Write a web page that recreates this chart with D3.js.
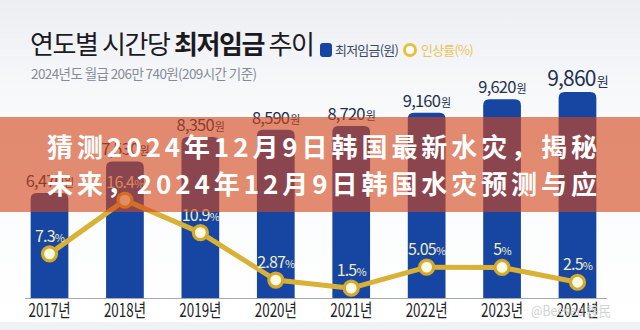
<!DOCTYPE html>
<html>
<head>
<meta charset="utf-8">
<script src="https://cdn.jsdelivr.net/npm/d3@7"></script>
<style>
  html, body { margin: 0; padding: 0; background: #ffffff; }
  svg { display: block; }
</style>
</head>
<body>
<svg id="chart" width="640" height="330"></svg>
<script>
// ---- data ----
const years = ["2017", "2018", "2019", "2020", "2021", "2022", "2023", "2024"];
const wages = [6470, 7530, 8350, 8590, 8720, 9160, 9620, 9860];
const wageLabels = ["6,470", "7,530", "8,350", "8,590", "8,720", "9,160", "9,620", "9,860"];
const rates = [7.3, 16.4, 10.9, 2.87, 1.5, 5.05, 5, 2.5];
const rateLabels = ["7.3", "16.4", "10.9", "2.87", "1.5", "5.05", "5", "2.5"];
const yearSuffix = "년";
const wonUnit = "원";
const pctUnit = "%";
const titleParts = ["연도별 시간당 ", "최저임금", " 추이"];
const subtitle = "2024년도 월급 206만 740원(209시간 기준)";
const legendLabels = ["최저임금(원)", "인상률(%)"];
const overlayLines = ["猜测2024年12月9日韩国最新水灾，揭秘", "未来，2024年12月9日韩国水灾预测与应"];
const watermark = "@Beeseo 移民";

// ---- layout ----
const W = 640, H = 330;
const baseY = 298;
const svg = d3.select("#chart");
const KR = "'Noto Sans CJK KR', 'Noto Sans', sans-serif";

const defs = svg.append("defs");
const bg = defs.append("linearGradient").attr("id", "bgGrad").attr("x1", 0).attr("y1", 0).attr("x2", 0).attr("y2", 1);
bg.append("stop").attr("offset", "0%").attr("stop-color", "#eceef2");
bg.append("stop").attr("offset", "30%").attr("stop-color", "#f8f9fb");
bg.append("stop").attr("offset", "100%").attr("stop-color", "#ffffff");
svg.append("rect").attr("width", W).attr("height", H).attr("fill", "url(#bgGrad)");
svg.append("rect").attr("x", 0).attr("y", 322).attr("width", W).attr("height", 8).attr("fill", "#f0f1f3");

// scales
const x = d3.scaleBand().domain(years).range([11.8, 615.2]).paddingInner(0.5).paddingOuter(0.25);
const yW = d3.scaleLinear().domain([2945, 9860]).range([baseY, 92]);
const yP = d3.scaleLinear().domain([0, 20]).range([297, 297 - 20 * 5.906]);
const cx = d => x(d) + x.bandwidth() / 2;

// title
const title = svg.append("text").attr("x", 30).attr("y", 54)
  .attr("font-family", KR).attr("font-size", 26).attr("fill", "#1b1b1f")
  .attr("letter-spacing", -1.4);
title.selectAll("tspan").data(titleParts).join("tspan")
  .attr("font-weight", (d, i) => i === 1 ? 700 : 400)
  .text(d => d);

svg.append("text").attr("x", 31).attr("y", 79)
  .attr("font-family", KR).attr("font-size", 13.5).attr("fill", "#858c98")
  .attr("letter-spacing", -0.6)
  .text(subtitle);

// legend
svg.append("rect").attr("x", 320).attr("y", 43).attr("width", 12).attr("height", 14).attr("rx", 3).attr("fill", "#1746a2");
svg.append("text").attr("x", 335).attr("y", 55).attr("font-family", KR).attr("font-size", 13)
  .attr("fill", "#3b4866").attr("letter-spacing", -0.8).text(legendLabels[0]);
svg.append("circle").attr("cx", 410).attr("cy", 50).attr("r", 5.5).attr("fill", "#ffffff")
  .attr("stroke", "#e8bf3c").attr("stroke-width", 3);
svg.append("text").attr("x", 421).attr("y", 55).attr("font-family", KR).attr("font-size", 13)
  .attr("fill", "#ebc458").attr("letter-spacing", -0.8).text(legendLabels[1]);

// axis baseline
svg.append("line").attr("x1", 25).attr("x2", 607).attr("y1", baseY + 0.5).attr("y2", baseY + 0.5)
  .attr("stroke", "#a4a9b1").attr("stroke-width", 1);

// bars with rounded top
const r = 6;
svg.append("g").selectAll("path").data(years).join("path")
  .attr("fill", "#1746a2")
  .attr("d", (d, i) => {
    const x0 = x(d), w = x.bandwidth(), t = yW(wages[i]);
    return `M${x0},${baseY}V${t + r}Q${x0},${t} ${x0 + r},${t}H${x0 + w - r}Q${x0 + w},${t} ${x0 + w},${t + r}V${baseY}Z`;
  });

// wage labels
const wl = svg.append("g").selectAll("text").data(years).join("text")
  .attr("x", d => cx(d)).attr("y", (d, i) => yW(wages[i]) - 6)
  .attr("text-anchor", "middle").attr("font-family", KR).attr("fill", "#243050")
  .attr("letter-spacing", -0.8);
wl.append("tspan").attr("font-size", (d, i) => i === years.length - 1 ? 21 : 16.5)
  .text((d, i) => wageLabels[i]);
wl.append("tspan").attr("font-size", (d, i) => i === years.length - 1 ? 13 : 11)
  .attr("dx", 1).text(wonUnit);

// year labels
svg.append("g").selectAll("text").data(years).join("text")
  .attr("x", d => cx(d)).attr("y", 317).attr("text-anchor", "middle")
  .attr("font-family", KR).attr("font-size", 18).attr("fill", "#202226")
  .attr("textLength", 42).attr("lengthAdjust", "spacingAndGlyphs")
  .text(d => d + yearSuffix);

// rate line
const line = d3.line().x((d, i) => cx(years[i])).y(d => yP(d));
svg.append("path").datum(rates).attr("d", line).attr("fill", "none")
  .attr("stroke", "#d9b136").attr("stroke-width", 5).attr("stroke-linejoin", "round");
svg.append("g").selectAll("circle").data(rates).join("circle")
  .attr("cx", (d, i) => cx(years[i])).attr("cy", d => yP(d)).attr("r", 7)
  .attr("fill", "#fffbe2").attr("stroke", "#d4a92c").attr("stroke-width", 3.2);

// rate labels
const rl = svg.append("g").selectAll("text").data(rates).join("text")
  .attr("x", (d, i) => cx(years[i])).attr("y", d => yP(d) - 12)
  .attr("text-anchor", "middle").attr("font-family", KR).attr("fill", "#f2ecc0")
  .attr("letter-spacing", -0.8);
rl.append("tspan").attr("font-size", 16).text((d, i) => rateLabels[i]);
rl.append("tspan").attr("font-size", 11).text(pctUnit);

// watermark
svg.append("text").attr("x", 531).attr("y", 316).attr("font-family", "'Noto Sans CJK SC', sans-serif")
  .attr("font-size", 14).attr("fill", "#c9c9c9").attr("opacity", 0.8)
  .attr("textLength", 80).attr("lengthAdjust", "spacingAndGlyphs").text(watermark);

// overlay band
svg.append("rect").attr("x", 0).attr("y", 117).attr("width", W).attr("height", 95)
  .attr("fill", "rgb(210,69,26)").attr("opacity", 0.62);

const ov = svg.append("g").selectAll("text").data(overlayLines).join("text")
  .attr("x", 47).attr("y", (d, i) => 157 + i * 37)
  .attr("font-family", "'Noto Sans CJK SC', sans-serif").attr("font-weight", 700)
  .attr("font-size", 26).attr("fill", "#ffffff")
  .text(d => d);
// spread each line to span the same width as in the source
ov.each(function (d) {
  const el = this;
  const w = el.getComputedTextLength();
  const n = Array.from(d).length;
  const target = 550;
  el.setAttribute("letter-spacing", ((target - w) / (n - 1)).toFixed(2));
});
</script>
</body>
</html>
